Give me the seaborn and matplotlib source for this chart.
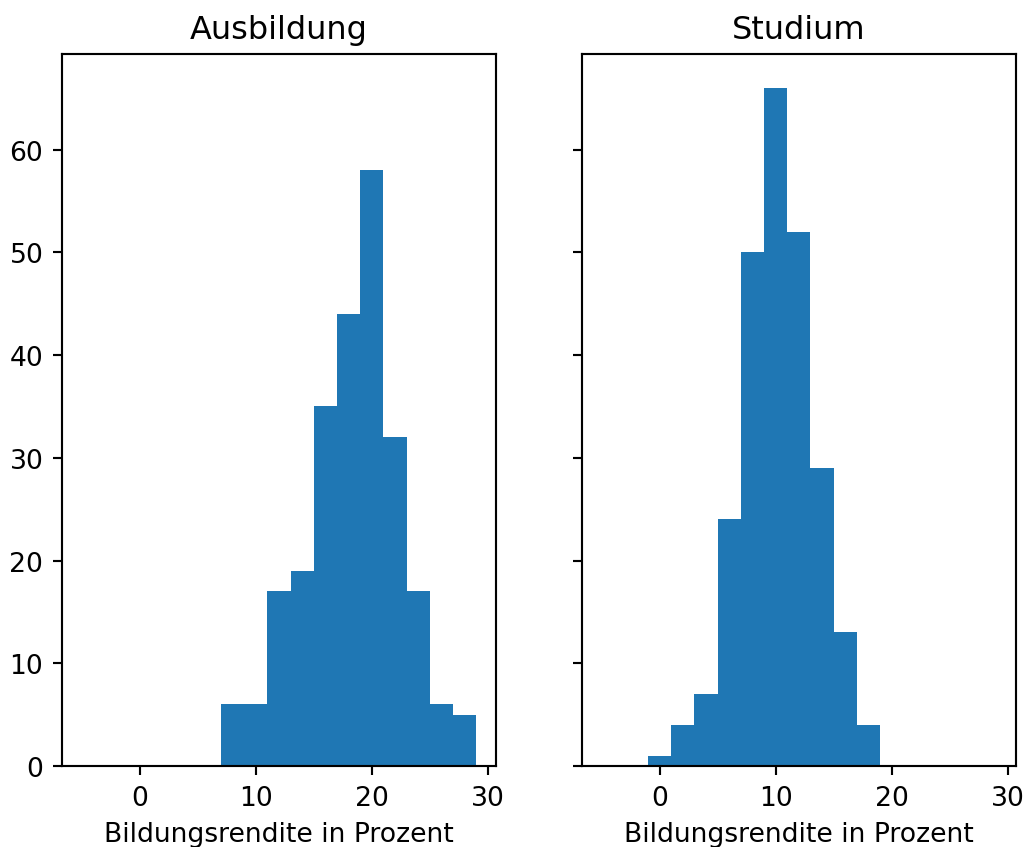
import seaborn as sns
import pandas as pd
import numpy as np
import matplotlib.pyplot as plt

# histogram counts per 2%-bin, bins from -5 to 29
bin_edges = [-5, -3, -1, 1, 3, 5, 7, 9, 11, 13, 15, 17, 19, 21, 23, 25, 27, 29]
ausbildung_counts = [0, 0, 0, 0, 0, 0, 6, 6, 17, 19, 35, 44, 58, 32, 17, 6, 5]
studium_counts = [0, 0, 1, 4, 7, 24, 50, 66, 52, 29, 13, 4, 0, 0, 0, 0, 0]
titles = ["Ausbildung", "Studium"]
xlabel = "Bildungsrendite in Prozent"

s = 1.28
plt.rcParams.update({
    "font.size": 10 * s,
    "axes.titlesize": 12 * s,
    "axes.titlepad": 6 * s,
    "axes.labelpad": 4 * s,
    "axes.linewidth": 0.8 * s,
    "xtick.major.size": 3.5 * s,
    "ytick.major.size": 3.5 * s,
    "xtick.major.width": 0.8 * s,
    "ytick.major.width": 0.8 * s,
    "xtick.major.pad": 3.5 * s,
    "ytick.major.pad": 3.5 * s,
})

edges = np.array(bin_edges)
centers = (edges[:-1] + edges[1:]) / 2

fig, axes = plt.subplots(1, 2, sharey=True, figsize=(6.82, 5.653), dpi=150)
fig.subplots_adjust(left=0.0606, right=0.993, bottom=0.0955, top=0.935, wspace=0.198)

for ax, title, counts in zip(axes, titles, [ausbildung_counts, studium_counts]):
    df = pd.DataFrame({"x": centers, "w": counts})
    sns.histplot(data=df, x="x", weights="w", bins=list(bin_edges), ax=ax,
                 color="#1f77b4", alpha=1, linewidth=0, edgecolor="none")
    ax.set_title(title)
    ax.set_xlabel(xlabel)
    ax.set_ylabel("")
    ax.set_xlim(-6.7, 30.7)
    ax.set_xticks([0, 10, 20, 30])

axes[0].set_ylim(0, 69.3)
axes[0].set_yticks([0, 10, 20, 30, 40, 50, 60])

fig.savefig("out.png", dpi=150)
